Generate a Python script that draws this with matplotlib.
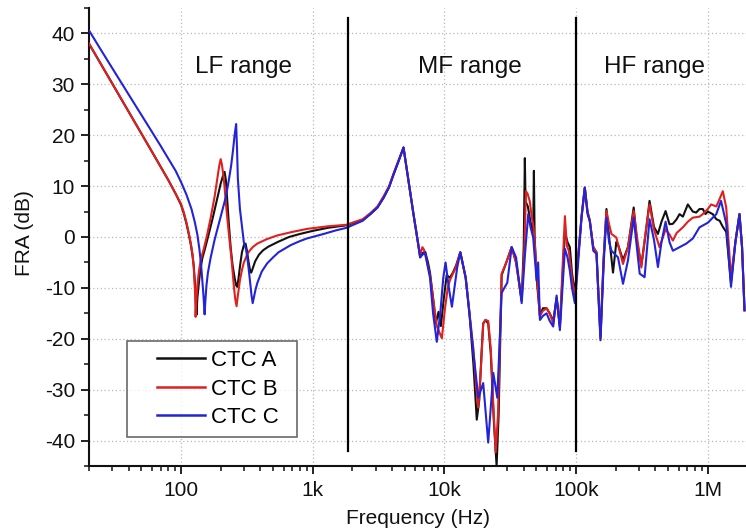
import matplotlib
matplotlib.use("Agg")
import matplotlib.pyplot as plt
from matplotlib.ticker import FixedLocator, LogLocator, NullFormatter, MultipleLocator
from matplotlib.legend_handler import HandlerLine2D

plt.rcParams['font.family'] = ['Liberation Sans', 'DejaVu Sans']
plt.rcParams['axes.unicode_minus'] = False

# ---- data (frequency in Hz, FRA in dB) ----
ctc_a = [
    (20, 38.0), (25, 33.7), (30, 30.2), (40, 24.6), (50, 20.3), (60, 16.8), (70, 13.8), (80, 11.2),
    (91, 8.5), (100, 6.3), (105, 4.6), (110, 2.6), (115, 0.3), (119, -1.7), (122, -3.5), (125, -5.8),
    (127, -8.5), (129, -11.5), (131, -15.3), (133, -12.0), (136, -9.5), (140, -6.5), (145, -4.2),
    (152, -2.3), (162, 0.5), (175, 4.0), (190, 8.0), (200, 10.5), (208, 12.0), (214, 12.8), (219, 11.2),
    (224, 7.5), (230, 3.0), (238, -2.0), (246, -5.5), (255, -8.0), (262, -9.5), (267, -9.8), (273, -8.2),
    (281, -5.5), (290, -3.0), (300, -1.6), (309, -1.3), (316, -2.6), (326, -5.0), (334, -6.5), (341, -7.0),
    (350, -6.2), (365, -4.8), (390, -3.5), (420, -2.6), (460, -1.9), (540, -1.0), (660, 0.0), (800, 0.6),
    (1000, 1.2), (1300, 1.8), (1800, 2.3), (2400, 3.4), (2740, 4.5), (3100, 5.8), (3450, 7.7), (3800, 9.8),
    (4110, 12.3), (4500, 15.0), (4890, 17.6), (5300, 11.5), (5820, 4.5), (6200, 0.0), (6540, -4.0),
    (6800, -3.2), (7140, -2.9), (7500, -5.0), (7770, -7.0), (8200, -12.0), (8600, -17.0), (9020, -14.7),
    (9400, -17.5), (9900, -12.0), (10400, -7.5), (11000, -8.0), (11600, -7.0), (12300, -5.5), (13200, -3.0),
    (14500, -8.0), (15500, -15.0), (16600, -25.0), (17600, -35.9), (18400, -32.0), (19200, -22.0),
    (19700, -17.0), (20500, -16.3), (21500, -17.0), (22500, -23.0), (23700, -36.0), (24900, -45.0),
    (25800, -35.0), (27200, -7.5), (29500, -5.0), (32400, -2.0), (35000, -5.0), (38600, -12.5), (40000, -2.0),
    (40800, 15.5), (41300, 7.0), (43000, 6.0), (45000, 3.0), (47200, 1.0), (47800, 13.0), (48400, 0.0),
    (50100, -8.0), (53100, -15.5), (56000, -14.0), (59700, -14.0), (63000, -15.0), (67000, -16.5),
    (71100, -12.0), (75300, -17.5), (82200, 1.0), (86000, -1.0), (89600, -2.0), (93000, -7.0), (97800, -11.0),
    (103500, -4.0), (110000, 4.0), (116400, 9.7), (122000, 5.0), (127000, 3.2), (135000, -2.0),
    (142800, -3.0), (153100, -19.5), (162000, -4.0), (170000, 5.5), (178000, 0.0), (190600, -7.0),
    (202000, -1.0), (208000, -1.5), (227000, -4.5), (247600, -2.0), (273600, 5.8), (290000, -1.0),
    (312800, -5.5), (335000, 0.0), (361000, 7.1), (390000, 2.0), (418000, 0.6), (445000, 3.0), (478000, 5.1),
    (512000, 2.5), (543000, 2.6), (580000, 3.5), (610000, 4.5), (647000, 4.0), (705000, 6.4), (769000, 5.0),
    (816000, 4.8), (865000, 5.5), (916000, 5.5), (960000, 4.5), (1000000, 5.0), (1090000, 4.5),
    (1160000, 3.5), (1230000, 3.2), (1300000, 2.0), (1380000, 1.0), (1500000, -9.0), (1620000, -1.0),
    (1740000, 4.5), (1820000, -2.0), (1900000, -14.4),
]

ctc_b = [
    (20, 38.0), (25, 33.7), (30, 30.2), (40, 24.6), (50, 20.3), (60, 16.8), (70, 13.8), (80, 11.2),
    (91, 8.5), (100, 6.5), (105, 4.8), (110, 2.8), (115, 0.5), (119, -1.5), (122, -3.3), (124.5, -5.5),
    (126.5, -8.5), (128, -11.5), (129, -15.7), (130.5, -12.5), (133, -9.5), (137, -6.5), (142, -4.2),
    (149, -2.3), (158, 0.5), (168, 3.8), (180, 8.0), (189, 11.6), (195, 14.0), (200, 15.3), (204, 14.3),
    (208, 12.8), (212, 11.0), (217, 8.0), (222, 5.0), (231, 0.5), (242, -4.5), (252, -9.8), (258, -12.2),
    (264, -13.6), (270, -11.5), (280, -8.5), (290, -6.5), (300, -5.0), (315, -3.7), (327, -2.9),
    (350, -2.0), (379, -1.3), (450, -0.4), (537, 0.3), (700, 1.0), (908, 1.6), (1300, 2.1), (1800, 2.4),
    (2400, 3.5), (2740, 4.7), (3100, 6.0), (3450, 8.0), (3800, 10.0), (4110, 12.5), (4500, 15.2),
    (4890, 17.5), (5300, 11.5), (5820, 4.5), (6200, 0.0), (6540, -3.5), (6800, -2.0), (7000, -2.5),
    (7300, -4.5), (7770, -7.5), (8200, -12.0), (8750, -17.5), (9560, -19.9), (10100, -14.0), (10600, -10.0),
    (11000, -8.5), (12200, -6.0), (13200, -3.0), (14500, -8.0), (15500, -15.0), (16600, -22.0),
    (17500, -30.0), (18100, -33.5), (19000, -25.0), (19700, -17.0), (20500, -16.3), (21500, -16.5),
    (22500, -22.0), (23500, -33.0), (24500, -42.3), (25500, -35.0), (27200, -7.2), (29500, -5.0),
    (32400, -2.0), (35000, -5.0), (38600, -12.5), (40500, -2.0), (41600, 9.0), (42800, 8.5), (44500, 7.0),
    (46000, 4.0), (47500, 2.0), (50000, -6.0), (53000, -15.5), (56000, -14.5), (59700, -14.0),
    (63000, -15.0), (67000, -17.0), (71100, -12.0), (75300, -17.5), (82200, 4.1), (85000, -1.7),
    (88000, -2.7), (93000, -8.0), (97800, -12.0), (103500, -4.0), (110000, 4.0), (116400, 9.7),
    (122000, 5.0), (127000, 3.2), (135000, -2.0), (142800, -3.0), (153100, -20.0), (162000, -4.0),
    (170000, 5.1), (178000, 2.5), (185400, 0.6), (202000, -0.1), (227000, -5.3), (247600, -2.0),
    (273600, 5.1), (290000, 0.0), (312800, -6.0), (335000, 0.5), (361000, 6.4), (390000, 1.5),
    (430000, -2.0), (478000, 1.5), (512000, 0.5), (543000, -0.7), (580000, 0.8), (647000, 1.9),
    (705000, 3.0), (769000, 3.8), (865000, 4.0), (916000, 4.5), (1000000, 5.5), (1060000, 6.4),
    (1160000, 6.0), (1230000, 7.5), (1300000, 9.0), (1380000, 5.8), (1500000, -7.9), (1620000, -1.0),
    (1740000, 4.5), (1820000, -2.0), (1900000, -14.4),
]

ctc_c = [
    (20, 40.6), (25, 36.5), (30, 33.2), (40, 28.0), (50, 24.0), (60, 20.7), (70, 17.9), (80, 15.4),
    (91, 13.0), (100, 10.8), (110, 8.3), (120, 5.5), (127, 3.0), (133, 0.5), (138, -2.5), (142, -5.5),
    (145, -8.5), (148, -11.5), (151, -15.2), (153, -12.5), (156, -9.5), (160, -7.0), (168, -4.0),
    (180, -0.5), (200, 4.0), (218, 7.7), (230, 11.0), (240, 14.0), (248, 17.0), (255, 20.0), (262, 22.2),
    (266, 17.5), (270, 11.5), (280, 5.5), (292, 1.5), (300, -1.1), (306, -1.8), (312, -2.5), (320, -4.5),
    (327, -6.5), (335, -9.0), (343, -11.5), (350, -13.0), (358, -11.8), (368, -10.3), (380, -9.0),
    (410, -6.8), (450, -5.2), (500, -4.0), (550, -3.0), (680, -1.6), (800, -0.8), (900, -0.3), (1210, 0.6),
    (1500, 1.3), (1800, 1.8), (2400, 3.2), (2740, 4.5), (3100, 5.8), (3450, 7.7), (3800, 9.8), (4110, 12.3),
    (4500, 15.0), (4890, 17.6), (5300, 11.5), (5820, 4.5), (6200, 0.0), (6540, -4.0), (6800, -3.5),
    (7140, -3.0), (7500, -6.0), (7770, -8.0), (8200, -15.0), (8750, -20.6), (9300, -15.0), (9800, -8.0),
    (10200, -5.0), (10800, -10.0), (11400, -13.7), (12500, -6.0), (13200, -3.0), (14500, -8.0),
    (16600, -22.8), (18100, -31.6), (19700, -28.7), (21500, -40.4), (23500, -26.7), (25200, -31.6),
    (27200, -11.0), (28500, -10.0), (30000, -9.0), (32400, -2.0), (35000, -4.0), (38600, -13.0),
    (41000, -3.0), (43300, 4.5), (45000, 2.0), (47200, -0.1), (48500, -4.0), (50100, -8.5), (51500, -5.0),
    (53100, -16.3), (56000, -15.5), (59700, -15.0), (63000, -16.5), (67000, -17.6), (71100, -11.5),
    (75300, -18.3), (82200, -2.3), (86000, -4.0), (89600, -6.6), (93000, -10.0), (97800, -13.0),
    (103500, -5.2), (110000, 4.0), (116400, 9.7), (122000, 4.5), (127000, 3.2), (135000, -2.7),
    (142800, -3.3), (153100, -20.3), (162000, -5.0), (170000, 3.8), (178000, -1.0), (185400, -2.7),
    (208000, -4.0), (227000, -9.2), (247600, -4.6), (273600, 3.8), (303900, -7.2), (331000, -7.9),
    (361000, 3.5), (390000, -0.5), (418000, -5.9), (445000, -1.0), (478000, 3.0), (512000, -1.0),
    (543000, -2.7), (610000, -2.0), (686000, -1.3), (769000, -0.3), (865000, 1.9), (1000000, 2.8),
    (1160000, 4.5), (1260000, 7.1), (1380000, 2.6), (1500000, -9.8), (1620000, -1.0), (1740000, 4.5),
    (1820000, -2.0), (1900000, -14.4),
]

series_names = ['CTC A', 'CTC B', 'CTC C']
series_colors = ['#111111', '#e02020', '#2323d8']
boundary_freqs = [1840, 100000]
range_labels = ['LF range', 'MF range', 'HF range']
range_label_freqs = [298, 15700, 394000]
x_tick_vals = [100, 1000, 10000, 100000, 1000000]
x_tick_labels = ['100', '1k', '10k', '100k', '1M']

# ---- figure ----
W, H = 746, 531
fig = plt.figure(figsize=(W / 100, H / 100), dpi=100)
ax = fig.add_axes([89 / W, 65 / H, (W - 89) / W, 458 / H])

for data, name, col in zip([ctc_a, ctc_b, ctc_c], series_names, series_colors):
    f = [p[0] for p in data]
    v = [p[1] for p in data]
    ax.plot(f, v, color=col, lw=1.5, label=name, solid_joinstyle='round', zorder=3)

for bf in boundary_freqs:
    ax.plot([bf, bf], [-42, 43], color='black', lw=1.6, zorder=4)

for lbl, lf in zip(range_labels, range_label_freqs):
    ax.text(lf, 33.5, lbl, fontsize=17.5, ha='center', va='center', color='#111111')

ax.set_xscale('log')
ax.set_xlim(20, 1.95e6)
ax.set_ylim(-45, 45)

ax.xaxis.set_major_locator(FixedLocator(x_tick_vals))
ax.set_xticklabels(x_tick_labels)
ax.xaxis.set_minor_locator(LogLocator(base=10, subs=range(2, 10), numticks=20))
ax.xaxis.set_minor_formatter(NullFormatter())
ax.set_yticks(range(-40, 41, 10))
ax.yaxis.set_minor_locator(MultipleLocator(5))

ax.grid(True, which='major', color='#b8b8b8', linestyle=(0, (1, 2)), lw=0.9, zorder=0)

for s in ['top', 'right']:
    ax.spines[s].set_visible(False)
for s in ['left', 'bottom']:
    ax.spines[s].set_linewidth(1.5)
    ax.spines[s].set_color('#111111')

ax.tick_params(axis='both', which='major', direction='out', length=6, width=1.3,
               labelsize=15, colors='#111111')
ax.tick_params(axis='both', which='minor', direction='out', length=3.5, width=1.1, colors='#111111')
ax.tick_params(axis='x', which='major', pad=5)
ax.tick_params(axis='y', which='major', pad=4)

fig.text(25 / W, 1 - 233 / H, 'FRA (dB)', rotation=90, ha='center', va='center', fontsize=15, color='#111111')
fig.text(418 / W, 1 - 519 / H, 'Frequency (Hz)', ha='center', va='center', fontsize=15, color='#111111')

ax_w, ax_h = W - 89, 458
leg_box = ((127 - 89) / ax_w, (466 - 437) / ax_h, (297 - 127) / ax_w, (437 - 342) / ax_h)
fs = 16
handler = HandlerLine2D(xpad=0.95)
leg = ax.legend(loc='lower left', bbox_to_anchor=leg_box, mode='expand',
                fontsize=fs, frameon=True, fancybox=False, handlelength=3.1,
                handletextpad=0.3, labelspacing=0.34, borderpad=0.4, borderaxespad=0,
                handler_map={plt.Line2D: handler})
leg.get_frame().set_edgecolor('#444444')
leg.get_frame().set_linewidth(1.2)
for line in leg.get_lines():
    line.set_linewidth(1.8)

fig.savefig('out.png', dpi=100)
